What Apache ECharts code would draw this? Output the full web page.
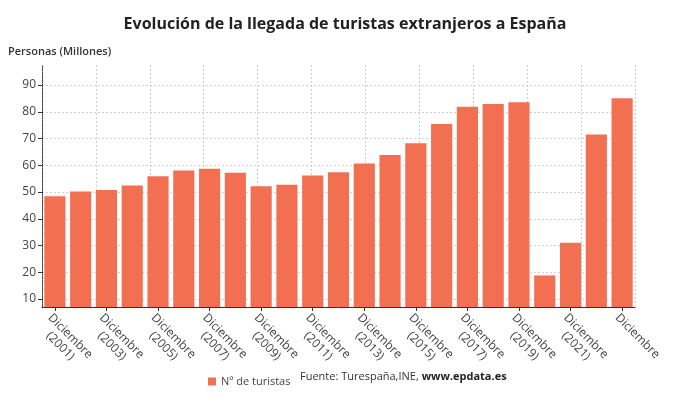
<!DOCTYPE html>
<html>
<head>
<meta charset="utf-8">
<script src="https://cdn.jsdelivr.net/npm/echarts@6/dist/echarts.min.js"></script>
<style>
html,body{margin:0;padding:0;background:#fff;}
#c{width:690px;height:405px;}
</style>
</head>
<body>
<div id="c"></div>
<script>
const years = ['2001','2002','2003','2004','2005','2006','2007','2008','2009','2010','2011','2012','2013','2014','2015','2016','2017','2018','2019','2020','2021','2022','2023'];
const categories = years.map((y, i) => i === years.length - 1 ? 'Diciembre' : 'Diciembre\n(' + y + ')');
const turistas = [48.4, 50.2, 50.8, 52.4, 55.9, 58.0, 58.7, 57.2, 52.2, 52.7, 56.2, 57.4, 60.7, 63.8, 68.2, 75.4, 81.9, 82.9, 83.6, 18.8, 31.0, 71.5, 85.1];
const yTicks = [10, 20, 30, 40, 50, 60, 70, 80, 90];

const font = '"Open Sans", sans-serif';
const chart = echarts.init(document.getElementById('c'));
chart.setOption({
  backgroundColor: '#fff',
  textStyle: { fontFamily: font },
  title: {
    text: 'Evolución de la llegada de turistas extranjeros a España',
    left: 'center', top: 11,
    textStyle: { fontFamily: font, fontSize: 16, fontWeight: 'bold', color: '#222' }
  },
  legend: {
    data: ['Nº de turistas'],
    left: 203, top: 371,
    icon: 'rect', itemWidth: 8, itemHeight: 8, itemGap: 4,
    textStyle: { fontFamily: font, fontSize: 11, color: '#444' }
  },
  graphic: [
    {
      type: 'text', left: 8, top: 46,
      style: { text: 'Personas (Millones)', fontFamily: font, fontSize: 11, fontWeight: 600, fill: '#333' }
    },
    {
      type: 'text', left: 300, top: 371,
      style: {
        text: '{a|Fuente: Turespaña,INE, }{b|www.epdata.es}',
        rich: {
          a: { fontFamily: font, fontSize: 11, fill: '#333', color: '#333' },
          b: { fontFamily: font, fontSize: 11, fontWeight: 'bold', fill: '#222', color: '#222' }
        }
      }
    }
  ],
  grid: { left: 42, right: 55, top: 65, bottom: 98, containLabel: false },
  xAxis: [
    {
      type: 'category',
      data: categories,
      axisLine: { lineStyle: { color: '#333', width: 1 } },
      axisTick: { show: true, interval: 1, alignWithLabel: true, length: 4, lineStyle: { color: '#333' } },
      axisLabel: {
        interval: 1, rotate: -45, color: '#444', fontSize: 12, fontFamily: font,
        margin: 4, lineHeight: 14, align: 'left', verticalAlign: 'top',
        formatter: function (v) { return v.split('\n').map(s => '{a|' + s + '}').join('\n'); },
        rich: { a: { align: 'center', fontSize: 12, fontFamily: font, color: '#444', lineHeight: 14 } }
      },
      splitLine: { show: false }
    },
    {
      type: 'value', position: 'top',
      min: 0, max: 11, interval: 1,
      axisLine: { show: false }, axisTick: { show: false }, axisLabel: { show: false },
      splitLine: { show: true, lineStyle: { color: '#cfcfd8', type: [2, 2], width: 1 } }
    }
  ],
  yAxis: {
    type: 'value',
    min: 7, max: 97.5, splitNumber: 9,
    axisLine: { show: true, lineStyle: { color: '#333', type: [1, 1], width: 1 } },
    axisTick: { show: true, length: 4, customValues: yTicks, lineStyle: { color: '#333' } },
    axisLabel: { customValues: yTicks, color: '#444', fontSize: 12, fontFamily: font, margin: 6, showMinLabel: true, showMaxLabel: true },
    splitLine: { show: true, showMinLine: true, showMaxLine: true, lineStyle: { color: '#cfcfd8', type: [2, 2], width: 1 } }
  },
  series: [
    {
      name: 'Nº de turistas',
      type: 'bar',
      xAxisIndex: 0,
      data: turistas,
      barCategoryGap: '18%',
      itemStyle: { color: '#f26f52' },
      silent: true
    }
  ],
  animation: false
});
</script>
</body>
</html>
